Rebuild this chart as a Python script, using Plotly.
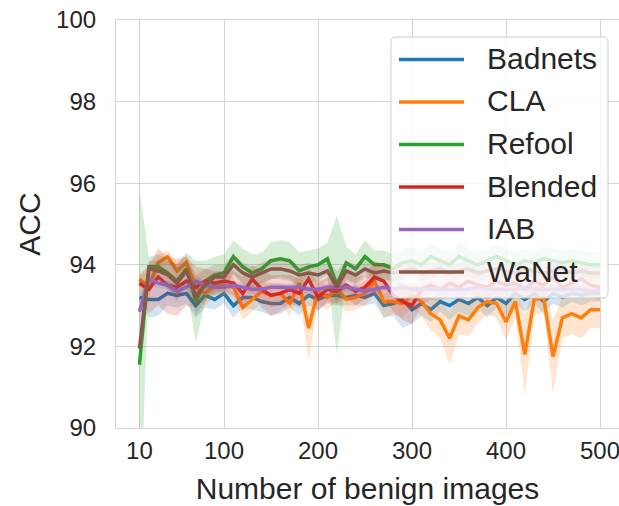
import plotly.graph_objects as go

# Number of benign images used for each run
sizes = list(range(10, 510, 10))

methods = ["Badnets", "CLA", "Refool", "Blended", "IAB", "WaNet"]
colors = ["#1f77b4", "#ff7f0e", "#2ca02c", "#d62728", "#9467bd", "#8c564b"]

# Mean clean accuracy (ACC, %) per method
acc_badnets = [93.2, 93.15, 93.15, 93.3, 93.25, 93.3, 93.0, 93.25, 93.15, 93.3,
               93.0, 93.2, 93.2, 93.1, 93.05, 93.05, 93.2, 93.05, 93.25, 93.15,
               93.25, 93.25, 93.2, 93.25, 93.2, 93.3, 93.0, 93.05, 93.15, 92.9,
               93.05, 92.9, 93.1, 93.0, 93.15, 93.05, 93.2, 93.0, 93.2, 93.05,
               93.3, 93.15, 93.3, 93.1, 93.3, 93.2, 93.3, 93.25, 93.3, 93.3]
acc_cla = [93.65, 93.45, 94.05, 94.2, 93.85, 94.05, 93.45, 93.3, 93.5, 93.5,
           93.45, 92.95, 93.15, 93.35, 93.25, 93.3, 93.05, 93.55, 92.45, 93.35,
           93.2, 93.4, 93.15, 93.2, 93.3, 93.6, 93.1, 93.1, 93.05, 93.25,
           93.1, 92.8, 92.65, 92.2, 92.75, 92.65, 92.95, 93.1, 93.05, 92.6,
           93.1, 91.8, 93.15, 93.2, 91.75, 92.7, 92.8, 92.7, 92.9, 92.9]
acc_refool = [91.55, 93.95, 93.95, 93.8, 93.6, 93.9, 93.1, 93.6, 93.75, 93.8,
              94.2, 93.95, 93.8, 93.9, 94.1, 94.15, 94.1, 93.85, 93.95, 94.0,
              94.15, 93.5, 94.05, 93.9, 94.2, 94.0, 94.0, 93.9, 94.05, 94.1,
              94.0, 94.2, 94.1, 94.0, 94.2, 94.1, 94.0, 94.1, 94.2, 94.1,
              94.0, 94.1, 94.05, 94.15, 94.1, 94.05, 94.1, 94.05, 94.0, 94.0]
acc_blended = [93.55, 93.4, 93.7, 93.5, 93.45, 93.6, 93.45, 93.6, 93.55, 93.6,
               93.55, 93.3, 93.65, 93.4, 93.25, 93.3, 93.4, 93.3, 93.65, 93.2,
               93.4, 93.35, 93.5, 93.35, 93.45, 93.7, 93.6, 93.25, 93.1, 93.0,
               93.4, 93.5, 93.4, 93.55, 93.45, 93.6, 93.5, 93.45, 93.6, 93.5,
               93.55, 93.4, 93.6, 93.5, 93.7, 93.45, 93.55, 93.65, 93.5, 93.45]
acc_iab = [92.85, 93.65, 93.55, 93.5, 93.35, 93.45, 93.6, 93.5, 93.45, 93.45,
           93.5, 93.45, 93.4, 93.4, 93.45, 93.45, 93.45, 93.45, 93.4, 93.4,
           93.45, 93.45, 93.45, 93.4, 93.35, 93.4, 93.45, 93.4, 93.45, 93.4,
           93.4, 93.4, 93.4, 93.4, 93.4, 93.4, 93.45, 93.4, 93.4, 93.4,
           93.4, 93.45, 93.4, 93.4, 93.4, 93.4, 93.4, 93.4, 93.35, 93.4]
acc_wanet = [91.95, 93.9, 93.85, 93.75, 93.55, 93.85, 93.25, 93.5, 93.7, 93.7,
             94.0, 93.8, 93.7, 93.8, 93.9, 93.9, 93.85, 93.75, 93.8, 93.75,
             93.85, 93.45, 93.85, 93.75, 93.9, 93.8, 93.85, 93.8, 93.85, 93.9,
             93.8, 93.85, 93.9, 93.8, 93.85, 93.9, 93.8, 93.85, 93.9, 93.85,
             93.8, 93.9, 93.85, 93.8, 93.85, 93.9, 93.8, 93.85, 93.8, 93.8]

# Half-width of the confidence interval around each mean
ci_badnets = [0.1, 0.45, 0.4, 0.3, 0.3, 0.25, 0.3, 0.3, 0.25, 0.25,
              0.3, 0.25, 0.3, 0.25, 0.3, 0.25, 0.25, 0.3, 0.25, 0.25,
              0.2, 0.25, 0.2, 0.25, 0.2, 0.25, 0.3, 0.3, 0.7, 0.35,
              0.3, 0.3, 0.25, 0.35, 0.3, 0.3, 0.25, 0.3, 0.25, 0.3,
              0.25, 0.3, 0.25, 0.3, 0.25, 0.25, 0.2, 0.25, 0.2, 0.2]
ci_cla = [0.15, 0.3, 0.2, 0.15, 0.2, 0.2, 0.3, 0.3, 0.25, 0.25,
          0.25, 0.3, 0.3, 0.25, 0.3, 0.25, 0.3, 0.3, 0.8, 0.3,
          0.3, 0.3, 0.3, 0.3, 0.3, 0.35, 0.4, 0.3, 0.35, 0.3,
          0.35, 0.4, 0.45, 0.65, 0.45, 0.4, 0.4, 0.3, 0.35, 0.45,
          0.4, 1.0, 0.4, 0.35, 0.9, 0.5, 0.5, 0.5, 0.45, 0.45]
ci_refool = [4.3, 0.25, 0.3, 0.35, 0.4, 0.4, 1.0, 0.5, 0.45, 0.45,
             0.4, 0.45, 0.45, 0.4, 0.45, 0.45, 0.45, 0.45, 0.4, 0.4,
             0.4, 1.7, 0.4, 0.35, 0.4, 0.35, 0.35, 0.35, 0.35, 0.35,
             0.3, 0.35, 0.3, 0.3, 0.35, 0.3, 0.3, 0.3, 0.3, 0.3,
             0.3, 0.3, 0.3, 0.3, 0.3, 0.3, 0.3, 0.3, 0.3, 0.3]
ci_blended = [0.2, 0.6, 0.7, 0.7, 0.7, 0.6, 0.5, 0.3, 0.3, 0.25,
              0.3, 0.4, 0.35, 0.45, 0.5, 0.45, 0.35, 0.35, 0.3, 0.35,
              0.3, 0.3, 0.3, 0.35, 0.3, 0.4, 0.4, 0.4, 0.45, 0.45,
              0.4, 0.35, 0.3, 0.3, 0.3, 0.3, 0.3, 0.3, 0.3, 0.3,
              0.3, 0.3, 0.35, 0.3, 0.3, 0.3, 0.3, 0.35, 0.3, 0.3]
ci_iab = [0.25, 0.15, 0.12, 0.1, 0.1, 0.1, 0.1, 0.1, 0.1, 0.1,
          0.1, 0.1, 0.1, 0.1, 0.1, 0.1, 0.1, 0.1, 0.1, 0.1,
          0.1, 0.1, 0.1, 0.1, 0.1, 0.1, 0.1, 0.1, 0.1, 0.1,
          0.1, 0.1, 0.1, 0.1, 0.1, 0.1, 0.1, 0.1, 0.1, 0.1,
          0.1, 0.1, 0.1, 0.1, 0.1, 0.1, 0.1, 0.1, 0.1, 0.1]
ci_wanet = [0.15, 0.2, 0.25, 0.35, 0.45, 0.3, 0.5, 0.4, 0.3, 0.3,
            0.25, 0.25, 0.25, 0.25, 0.25, 0.25, 0.25, 0.25, 0.25, 0.25,
            0.25, 0.4, 0.25, 0.25, 0.2, 0.2, 0.2, 0.2, 0.2, 0.2,
            0.2, 0.2, 0.2, 0.2, 0.2, 0.2, 0.2, 0.2, 0.2, 0.2,
            0.2, 0.2, 0.2, 0.2, 0.2, 0.2, 0.2, 0.2, 0.2, 0.2]

x_ticks = [10, 100, 200, 300, 400, 500]
y_ticks = [90, 92, 94, 96, 98, 100]

means = [acc_badnets, acc_cla, acc_refool, acc_blended, acc_iab, acc_wanet]
spreads = [ci_badnets, ci_cla, ci_refool, ci_blended, ci_iab, ci_wanet]

W, H = 619, 506
M_L, M_R, M_T, M_B = 116, 0, 20, 78
PW, PH = W - M_L - M_R, H - M_T - M_B


def rgba(hex_color, alpha):
    h = hex_color.lstrip("#")
    r, g, b = int(h[0:2], 16), int(h[2:4], 16), int(h[4:6], 16)
    return f"rgba({r},{g},{b},{alpha})"


def px_x(px):
    """Pixel column -> paper x."""
    return (px - M_L) / PW


def px_y(py):
    """Pixel row -> paper y."""
    return (H - M_B - py) / PH


fig = go.Figure()
for name, color, mean, hw in zip(methods, colors, means, spreads):
    upper = [m + h for m, h in zip(mean, hw)]
    lower = [m - h for m, h in zip(mean, hw)]
    fig.add_trace(go.Scatter(
        x=sizes + sizes[::-1], y=upper + lower[::-1],
        fill="toself", fillcolor=rgba(color, 0.2),
        line=dict(width=0), mode="lines",
        hoverinfo="skip", showlegend=False,
    ))
    fig.add_trace(go.Scatter(
        x=sizes, y=mean, mode="lines", name=name,
        line=dict(color=color, width=3.5), showlegend=False,
    ))

text_color = "#262626"
grid_color = "#d5d5d5"
font_family = "Liberation Sans, Arial, sans-serif"

# Legend panel: rounded, semi-opaque box with a line sample and label per method
box_l, box_r, box_t, box_b, rad = 391, 608, 37, 298, 5
rx, ry = rad / PW, rad / PH
x0, x1, y0, y1 = px_x(box_l), px_x(box_r), px_y(box_b), px_y(box_t)
box_path = (
    f"M {x0 + rx},{y1} L {x1 - rx},{y1} Q {x1},{y1} {x1},{y1 - ry} "
    f"L {x1},{y0 + ry} Q {x1},{y0} {x1 - rx},{y0} "
    f"L {x0 + rx},{y0} Q {x0},{y0} {x0},{y0 + ry} "
    f"L {x0},{y1 - ry} Q {x0},{y1} {x0 + rx},{y1} Z"
)
shapes = [dict(type="path", xref="paper", yref="paper", path=box_path,
               fillcolor="rgba(255,255,255,0.8)",
               line=dict(color="#cccccc", width=1), layer="above")]
annotations = []
row0, row_gap = 59.5, 42.5
for i, (name, color) in enumerate(zip(methods, colors)):
    ry_px = row0 + i * row_gap
    shapes.append(dict(type="line", xref="paper", yref="paper",
                       x0=px_x(399), x1=px_x(464), y0=px_y(ry_px), y1=px_y(ry_px),
                       line=dict(color=color, width=3.5), layer="above"))
    annotations.append(dict(xref="paper", yref="paper", x=px_x(485), y=px_y(ry_px - 1),
                            text=name, showarrow=False, xanchor="left", yanchor="middle",
                            font=dict(size=30, color=text_color, family=font_family)))

fig.update_layout(
    width=W, height=H,
    margin=dict(l=M_L, r=M_R, t=M_T, b=M_B),
    paper_bgcolor="white", plot_bgcolor="white",
    font=dict(family=font_family, color=text_color),
    showlegend=False,
    shapes=shapes, annotations=annotations,
    xaxis=dict(
        range=[-14.9, 520.2], tickvals=x_ticks,
        ticktext=[str(v) for v in x_ticks],
        showgrid=True, gridcolor=grid_color, gridwidth=1.2,
        zeroline=False, ticks="", ticklabelstandoff=1,
        ticklabeloverflow="allow",
        showline=True, linecolor=grid_color, linewidth=1.2, mirror=True,
        tickfont=dict(size=24, color=text_color),
        title=dict(text="Number of benign images", font=dict(size=30, color=text_color), standoff=15),
    ),
    yaxis=dict(
        range=[90, 100], tickvals=y_ticks,
        ticktext=[str(v) for v in y_ticks],
        showgrid=True, gridcolor=grid_color, gridwidth=1.2,
        zeroline=False, ticks="", ticklabelstandoff=14,
        showline=True, linecolor=grid_color, linewidth=1.2,
        tickfont=dict(size=24, color=text_color),
        title=dict(text="ACC", font=dict(size=30, color=text_color), standoff=6),
    ),
)

fig.write_html("out.html")
